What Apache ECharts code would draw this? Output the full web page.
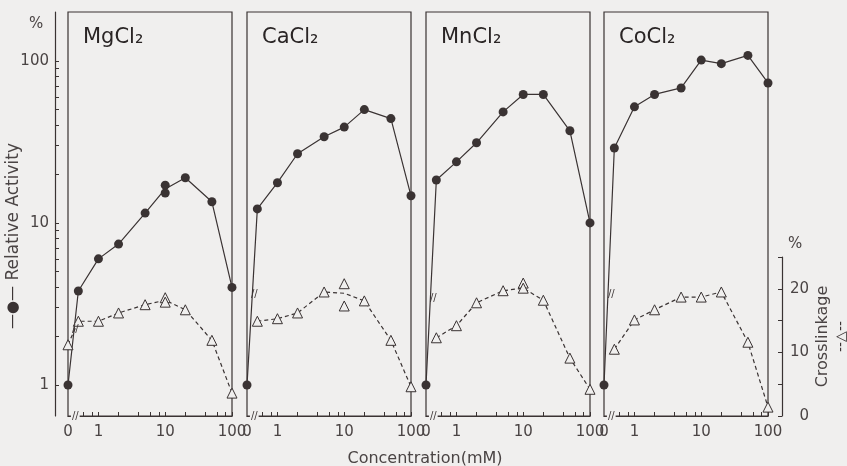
<!DOCTYPE html>
<html>
<head>
<meta charset="utf-8">
<script src="https://cdn.jsdelivr.net/npm/echarts@6/dist/echarts.min.js"></script>
<style>
  html, body { margin: 0; padding: 0; background: #f0efee; }
  #chart { width: 847px; height: 466px; }
</style>
</head>
<body>
<div id="chart"></div>
<script>
// concentrations (mM); 0 sits at the left end of the broken log axis
const concentrations = [0, 0.5, 1, 2, 5, 10, 20, 50, 100]
const saltNames = ['MgCl₂', 'CaCl₂', 'MnCl₂', 'CoCl₂']

// relative activity (%) - solid line, filled dots
const activityMg = [1, 3.8, 6.0, 7.4, 11.5, 16.2, 19.0, 13.5, 4.0]
const activityCa = [1, 12.2, 17.7, 26.7, 34, 39, 50, 44, 14.7]
const activityMn = [1, 18.4, 23.8, 31.2, 48.4, 62, 62, 37, 10]
const activityCo = [1, 29, 52, 62, 68, 101, 96, 108, 73]
// duplicate readings at 10 mM, the line runs between them
const activityMgRepeats = [[10, 15.3], [10, 17.1]]

// crosslinkage (%) - dashed line, open triangles
const crossMg = [11.2, 14.9, 14.9, 16.2, 17.5, 18.2, 16.7, 11.9, 3.6]
const crossCa = [null, 14.9, 15.3, 16.2, 19.5, 19.3, 18.1, 11.9, 4.6]
const crossMn = [null, 12.3, 14.2, 17.8, 19.7, 20.1, 18.2, 9.1, 4.2]
const crossCo = [null, 10.5, 15.1, 16.7, 18.7, 18.7, 19.5, 11.6, 1.4]
const crossMgRepeats = [[10, 18.6], [10, 17.9]]
const crossCaRepeats = [[10, 20.8], [10, 17.3]]
const crossMnRepeats = [[10, 20.9], [10, 20.1]]

// tick labels
const concLabels = [0, 1, 10, 100]
const activityLabels = [1, 10, 100]
const crossLabels = [0, 10, 20]
const concMinorTicks = [0.4, 0.6, 0.8, 1, 2, 4, 6, 8, 10, 20, 40, 60, 80, 100]
const activityMinorTicks = [1, 2, 3, 4, 5, 6, 7, 8, 9, 10, 20, 30, 40, 50, 60, 70, 80, 90, 100]

// where the "//" break marks sit on the activity lines
const breakMarkY = [2.2, 3.6, 3.4, 3.6]

const activity = [activityMg, activityCa, activityMn, activityCo]
const activityRepeats = [activityMgRepeats, [], [], []]
const cross = [crossMg, crossCa, crossMn, crossCo]
const crossRepeats = [crossMgRepeats, crossCaRepeats, crossMnRepeats, []]

const ZERO_AT = 0.35
const INK = '#3a3333'
const TEXT = '#4a4444'
const BG = '#f0efee'
const FONT = 'DejaVu Sans'
const panelLeft = [68, 247, 426, 604]
const panelWidth = 164

const xPos = c => (c === 0 ? ZERO_AT : c)

const grids = []
const xAxes = []
const yAxes = []
const series = []
const titles = []

panelLeft.forEach((left, i) => {
  grids.push({ left: left, width: panelWidth, top: 12, height: 404, show: true, outerBoundsMode: 'none',
    borderColor: INK, borderWidth: 1.2, backgroundColor: 'transparent' })
  grids.push({ left: left, width: panelWidth, top: 257, height: 159, outerBoundsMode: 'none' })

  xAxes.push({
    type: 'log', gridIndex: 2 * i, min: ZERO_AT, max: 100,
    axisLine: { show: true, lineStyle: { color: INK, width: 1.2 } },
    axisTick: { show: true, inside: true, length: 4, customValues: concMinorTicks, lineStyle: { color: INK } },
    axisLabel: {
      fontFamily: FONT, fontSize: 15, color: TEXT, margin: 9,
      formatter: v => (v < 0.9 ? String(concLabels[0]) : String(concLabels.find(t => Math.abs(t - v) < 0.01 * t) ?? ''))
    },
    splitLine: { show: false }
  })
  xAxes.push({ type: 'log', gridIndex: 2 * i + 1, min: ZERO_AT, max: 100, show: false })

  const yAct = { type: 'log', gridIndex: 2 * i, min: 0.644, max: 200, show: i === 0, splitLine: { show: false } }
  if (i === 0) {
    Object.assign(yAct, {
      position: 'left', offset: 13,
      axisLine: { show: true, lineStyle: { color: INK, width: 1.2 } },
      axisTick: { show: true, inside: true, length: 4, customValues: activityMinorTicks, lineStyle: { color: INK } },
      axisLabel: { fontFamily: FONT, fontSize: 15, color: TEXT, margin: 6, customValues: activityLabels },
      name: '{s|—●—} Relative Activity',
      nameLocation: 'middle', nameRotate: 90, nameGap: 33, nameMoveOverlap: false,
      nameTextStyle: { fontFamily: FONT, fontSize: 17, color: TEXT, padding: [0, 44, 0, 0],
        rich: { s: { fontSize: 15, color: INK } } }
    })
  }
  yAxes.push(yAct)

  const yCross = { type: 'value', gridIndex: 2 * i + 1, min: 0, max: 25, interval: 5, show: i === 3, splitLine: { show: false } }
  if (i === 3) {
    Object.assign(yCross, {
      position: 'right', offset: 14,
      axisLine: { show: true, lineStyle: { color: INK, width: 1.2 } },
      axisTick: { show: true, inside: true, length: 4, lineStyle: { color: INK } },
      axisLabel: { fontFamily: FONT, fontSize: 15, color: TEXT, margin: 27, align: 'right',
        formatter: v => (crossLabels.includes(v) ? String(v) : '') },
      name: 'Crosslinkage\n{s|--△--}',
      nameLocation: 'middle', nameRotate: 90, nameGap: 31, nameMoveOverlap: false,
      nameTextStyle: { fontFamily: FONT, fontSize: 16, color: TEXT, lineHeight: 19,
        rich: { s: { fontSize: 14, color: INK, lineHeight: 19 } } }
    })
  }
  yAxes.push(yCross)

  const actReps = activityRepeats[i]
  series.push({
    type: 'line', xAxisIndex: 2 * i, yAxisIndex: 2 * i, z: 3,
    data: concentrations.map((c, j) => {
      const item = { value: [xPos(c), activity[i][j]] }
      if (actReps.some(r => r[0] === c)) item.symbol = 'none'
      return item
    }),
    symbol: 'circle', symbolSize: 9,
    itemStyle: { color: INK },
    lineStyle: { color: INK, width: 1.2 },
    markPoint: {
      symbol: 'circle', symbolSize: 1, itemStyle: { color: 'transparent' },
      label: { show: true, position: 'inside', formatter: '//', fontFamily: FONT, fontSize: 10, color: INK },
      data: [
        { coord: [0.45, breakMarkY[i]] },
        { coord: [0.45, 0.644], label: { backgroundColor: BG, padding: [0, 1] } }
      ]
    },
    animation: false
  })
  if (actReps.length) {
    series.push({ type: 'scatter', xAxisIndex: 2 * i, yAxisIndex: 2 * i, z: 3,
      data: actReps, symbol: 'circle', symbolSize: 9, itemStyle: { color: INK, opacity: 1 }, animation: false })
  }

  const crReps = crossRepeats[i]
  series.push({
    type: 'line', xAxisIndex: 2 * i + 1, yAxisIndex: 2 * i + 1, z: 4,
    data: concentrations.map((c, j) => {
      if (cross[i][j] == null) return null
      const item = { value: [xPos(c), cross[i][j]] }
      if (crReps.some(r => r[0] === c)) item.symbol = 'none'
      return item
    }).filter(d => d !== null),
    symbol: 'triangle', symbolSize: 10,
    itemStyle: { color: BG, borderColor: INK, borderWidth: 1 },
    lineStyle: { color: INK, width: 1.2, type: [4, 3] },
    animation: false
  })
  if (crReps.length) {
    series.push({ type: 'scatter', xAxisIndex: 2 * i + 1, yAxisIndex: 2 * i + 1, z: 4,
      data: crReps, symbol: 'triangle', symbolSize: 10,
      itemStyle: { color: BG, borderColor: INK, borderWidth: 1, opacity: 1 }, animation: false })
  }

  titles.push({ text: saltNames[i], left: left + 10, top: 22,
    textStyle: { fontFamily: FONT, fontSize: 21, fontWeight: 'normal', color: '#2a2525' } })
})

titles.push({ text: '%', left: 24, top: 12, textStyle: { fontFamily: FONT, fontSize: 15, fontWeight: 'normal', color: TEXT } })
titles.push({ text: '%', left: 783, top: 232, textStyle: { fontFamily: FONT, fontSize: 15, fontWeight: 'normal', color: TEXT } })
titles.push({ text: 'Concentration(mM)', left: 420, top: 446, textAlign: 'center',
  textStyle: { fontFamily: FONT, fontSize: 16, fontWeight: 'normal', color: TEXT } })

const chart = echarts.init(document.getElementById('chart'))
chart.setOption({
  backgroundColor: BG,
  animation: false,
  title: titles,
  grid: grids,
  xAxis: xAxes,
  yAxis: yAxes,
  series: series
})
</script>
</body>
</html>
